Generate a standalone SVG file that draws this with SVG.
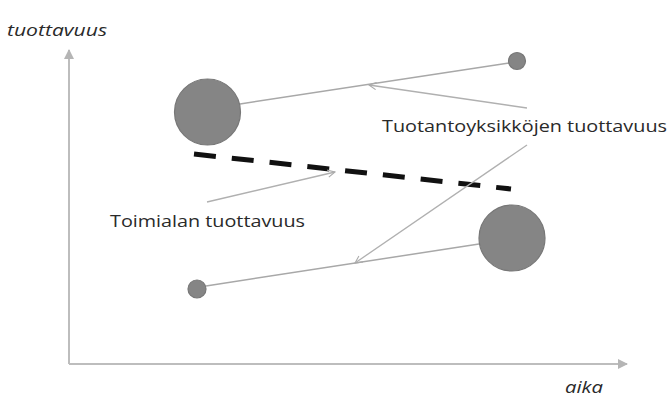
<svg xmlns="http://www.w3.org/2000/svg" width="672" height="401" viewBox="0 0 672 401">
<defs>
<marker id="axarrow" viewBox="0 0 10 10" refX="9" refY="5" markerWidth="5" markerHeight="5" orient="auto">
<path d="M0,0 L10,5 L0,10 z" fill="#b5b5b5"/>
</marker>
<marker id="openarrow" viewBox="0 0 10 10" refX="9" refY="5" markerWidth="9" markerHeight="9" orient="auto" markerUnits="userSpaceOnUse">
<path d="M1,1 L9,5 L1,9" fill="none" stroke="#aaaaaa" stroke-width="1.2"/>
</marker>
<style>
.axis{stroke:#bdbdbd;stroke-width:2;fill:none}
.ptr{stroke:#b0b0b0;stroke-width:1.3;fill:none}
.conn{stroke:#a8a8a8;stroke-width:1.5;fill:none}
.dot{fill:#858585;stroke:#777777;stroke-width:1.2}
.lbl{font-family:"Open Sans","Liberation Sans",sans-serif;font-size:17px;fill:#2a2a2a}
.ax{font-family:"Open Sans","Liberation Sans",sans-serif;font-size:16px;font-style:italic;fill:#2a2a2a}
</style>
</defs>
<rect width="672" height="401" fill="#ffffff"/>
<g id="axes">
<line class="axis" x1="69" y1="364" x2="69" y2="50" marker-end="url(#axarrow)"/>
<line class="axis" x1="69" y1="364" x2="627" y2="364" marker-end="url(#axarrow)"/>
<text class="ax" x="7" y="36" textLength="100" lengthAdjust="spacingAndGlyphs">tuottavuus</text>
<text class="ax" x="565" y="393" textLength="38" lengthAdjust="spacingAndGlyphs">aika</text>
</g>
<g id="connectors">
<line class="conn" x1="240" y1="104" x2="509" y2="63"/>
<line class="conn" x1="206" y1="286" x2="479" y2="244"/>
<line x1="194" y1="154" x2="511" y2="189" stroke="#111111" stroke-width="5" stroke-dasharray="22,16"/>
<line class="ptr" x1="527" y1="108" x2="369" y2="85" marker-end="url(#openarrow)"/>
<line class="ptr" x1="527" y1="145" x2="355" y2="263" marker-end="url(#openarrow)"/>
<line class="ptr" x1="207" y1="202" x2="335" y2="172" marker-end="url(#openarrow)"/>
</g>
<g id="unit-a-start"><circle class="dot" cx="207.5" cy="112" r="33"/></g>
<g id="unit-a-end"><circle class="dot" cx="517" cy="61" r="8.5"/></g>
<g id="unit-b-start"><circle class="dot" cx="197" cy="289" r="9"/></g>
<g id="unit-b-end"><circle class="dot" cx="512" cy="238" r="33"/></g>
<g id="label-units"><text class="lbl" x="382" y="132" textLength="285" lengthAdjust="spacingAndGlyphs">Tuotantoyksikköjen tuottavuus</text></g>
<g id="label-industry"><text class="lbl" x="110" y="227" textLength="195" lengthAdjust="spacingAndGlyphs">Toimialan tuottavuus</text></g>
</svg>
